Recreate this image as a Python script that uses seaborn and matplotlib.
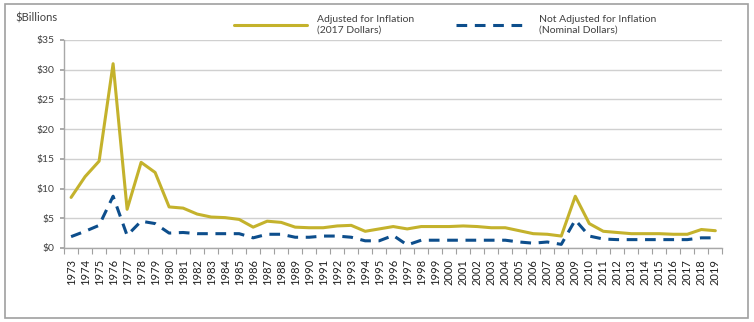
import matplotlib
matplotlib.use("Agg")
import matplotlib.pyplot as plt
import seaborn as sns
import pandas as pd
import numpy as np
from matplotlib.patches import Rectangle

years = list(range(1973, 2020))
adjusted = [8.5, 12.0, 14.6, 31.0, 6.5, 14.4, 12.7, 6.9, 6.7, 5.7, 5.2, 5.1, 4.8, 3.5,
            4.5, 4.3, 3.5, 3.4, 3.4, 3.7, 3.8, 2.8, 3.2, 3.6, 3.2, 3.6, 3.6, 3.6, 3.7,
            3.6, 3.4, 3.4, 2.9, 2.4, 2.3, 2.0, 8.7, 4.1, 2.8, 2.6, 2.4, 2.4, 2.4, 2.3,
            2.3, 3.1, 2.9]
nominal = [1.9, 2.8, 3.8, 8.7, 2.1, 4.5, 4.1, 2.5, 2.6, 2.4, 2.4, 2.4, 2.4, 1.7,
           2.3, 2.3, 1.8, 1.8, 2.0, 2.0, 1.8, 1.2, 1.2, 2.1, 0.5, 1.3, 1.3, 1.3, 1.3,
           1.3, 1.3, 1.3, 1.0, 0.8, 1.0, 0.6, 4.7, 2.0, 1.5, 1.4, 1.4, 1.4, 1.4, 1.4,
           1.4, 1.7, 1.7]
series_names = ["Adjusted for Inflation\n(2017 Dollars)",
                "Not Adjusted for Inflation\n(Nominal Dollars)"]
y_ticks = [0, 5, 10, 15, 20, 25, 30, 35]
y_labels = ["$" + str(v) for v in y_ticks]

gold = "#C4B22C"
blue = "#0D4E8C"

sns.set_theme(style="white")
plt.rcParams['font.family'] = ['Lato', 'DejaVu Sans']

df = pd.DataFrame({"pos": np.arange(len(years)), "adj": adjusted, "nom": nominal})

fig = plt.figure(figsize=(7.54, 3.22), dpi=100)
ax = fig.add_axes([0.085, 0.23, 0.873, 0.646])

sns.lineplot(data=df, x="pos", y="adj", ax=ax, color=gold, linewidth=2.2,
             label=series_names[0])
sns.lineplot(data=df, x="pos", y="nom", ax=ax, color=blue, linewidth=2.2,
             label=series_names[1])
ax.lines[1].set_dashes([3.5, 2.5])
ax.lines[1].set_dash_capstyle("butt")

ax.set_xlim(-0.5, len(years) - 0.5)
ax.set_ylim(0, 35)
ax.set_yticks(y_ticks)
ax.set_yticklabels(y_labels, fontsize=7.5, color="#404040")
ax.set_xticks(np.arange(len(years)))
ax.set_xticklabels([str(y) for y in years], rotation=90, fontsize=8, color="#202020")
ax.set_xticks(np.arange(len(years) + 1) - 0.5, minor=True)
ax.tick_params(axis="x", which="major", length=0, pad=8)
ax.tick_params(axis="x", which="minor", length=4, color="#a0a0a0", width=0.8, bottom=True)
ax.tick_params(axis="y", length=3, color="#a0a0a0", pad=4, left=True)
ax.set_xlabel("")
ax.set_ylabel("")
ax.grid(axis="y", color="#d0d0d0", linewidth=1)
for s in ["top", "right"]:
    ax.spines[s].set_visible(False)
for s in ["left", "bottom"]:
    ax.spines[s].set_color("#a8a8a8")
    ax.spines[s].set_linewidth(1)

leg = ax.legend(loc="lower left", bbox_to_anchor=(0.25, 1.0), ncol=2, frameon=False,
                fontsize=7.5, handlelength=7, columnspacing=4, handletextpad=1,
                borderaxespad=0.1)
for t in leg.get_texts():
    t.set_color("#404040")

fig.text(15 / 754, 1 - 18 / 322, "$Billions", fontsize=8, color="#404040",
         va="center", ha="left")

fig.patches.append(Rectangle((5 / 754, 4 / 322), 743 / 754, 314 / 322,
                             transform=fig.transFigure, fill=False,
                             edgecolor="#a0a0a0", linewidth=1.2))

fig.savefig("out.png", dpi=100)
